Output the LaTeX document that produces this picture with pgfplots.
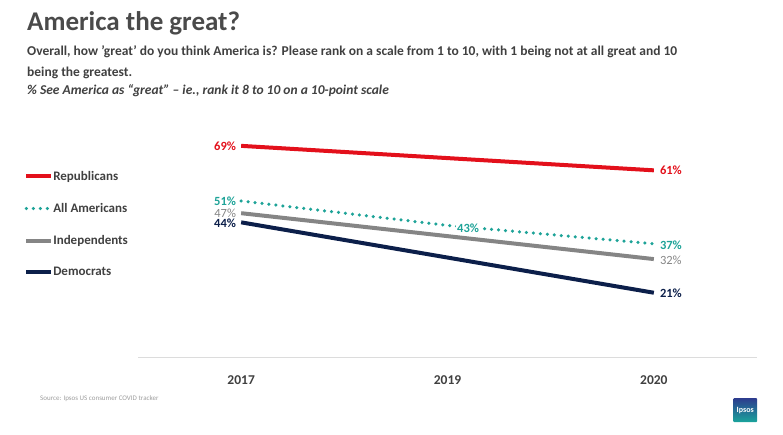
\documentclass[border=0pt]{standalone}
\usepackage{pgfplots}
\pgfplotsset{compat=1.18}
\usepackage{fontspec}
\setmainfont{Carlito}
\definecolor{rep}{HTML}{E3101B}
\definecolor{allam}{HTML}{1EA398}
\definecolor{ind}{HTML}{858585}
\definecolor{dem}{HTML}{0C1F4A}
\definecolor{txt}{HTML}{404040}
\definecolor{ttl}{HTML}{4A4A4A}
\definecolor{axisgray}{HTML}{DCDCDC}
\definecolor{logoblue}{HTML}{2D3C8E}
\definecolor{logoteal}{HTML}{19A59C}
\begin{document}
\begin{tikzpicture}
\useasboundingbox (0pt,0pt) rectangle (783pt,-435pt);
% titles
\node[anchor=base west,inner sep=0,font=\fontsize{27}{30}\selectfont\bfseries,text=ttl] at (27pt,-31pt) {America the great?};
\node[anchor=base west,inner sep=0,font=\fontsize{13.5}{16}\selectfont\bfseries,text=txt] at (27pt,-56pt) {Overall, how 'great' do you think America is? Please rank on a scale from 1 to 10, with 1 being not at all great and 10};
\node[anchor=base west,inner sep=0,font=\fontsize{13.5}{16}\selectfont\bfseries,text=txt] at (27pt,-77pt) {being the greatest.};
\node[anchor=base west,inner sep=0,font=\fontsize{13.5}{16}\selectfont\bfseries\itshape,text=txt] at (27pt,-95pt) {\% See America as “great” – ie., rank it 8 to 10 on a 10-point scale};
% source
\node[anchor=base west,inner sep=0,font=\fontsize{7}{8}\selectfont,text=ind!80] at (40pt,-400pt) {Source: Ipsos US consumer COVID tracker};
% logo
\node[minimum width=24pt,minimum height=24pt,inner sep=0pt,rounded corners=1pt,top color=logoblue,bottom color=logoteal,text=white,font=\fontsize{8}{9}\selectfont\bfseries,anchor=north west] at (733pt,-398pt) {\raisebox{-6pt}{Ipsos}};
\begin{axis}[
  at={(138pt,-357pt)}, anchor=south west,
  scale only axis, width=619pt, height=229.5pt,
  xmin=-0.5, xmax=2.5, ymin=0, ymax=75,
  axis x line*=bottom, axis y line=none,
  x axis line style={draw=axisgray,line width=1pt,-},
  xtick={0,1,2}, xticklabels={2017,2019,2020},
  major tick length=0pt,
  xticklabel style={font=\fontsize{13.5}{16}\selectfont\bfseries,text=txt,yshift=-15pt},
  ytick=\empty,
  clip=false,
  legend style={at={(-0.184,0.811)},anchor=north west,draw=none,fill=none,
    font=\fontsize{13}{15}\selectfont\bfseries,text=txt,row sep=21.5pt,
    inner sep=0pt,nodes={inner xsep=0pt,inner ysep=0pt},cells={anchor=west},
    /tikz/every even column/.append style={column sep=0pt}},
  legend image code/.code={\draw[#1] (0pt,0pt) -- (25pt,0pt);},
  legend cell align=left,
]
\addplot[rep,line width=4pt] coordinates {(0,69) (2,61)};
\addlegendentry{Republicans}
\addplot[allam,line width=3.5pt,line cap=round,dash pattern=on 0pt off 7pt] coordinates {(0,51) (1,43) (2,37)};
\addlegendentry{All Americans}
\addplot[ind,line width=4pt] coordinates {(0,47) (2,32)};
\addlegendentry{Independents}
\addplot[dem,line width=4pt] coordinates {(0,44) (2,21)};
\addlegendentry{Democrats}
% value labels
\begin{scope}[every node/.style={font=\fontsize{12.5}{15}\selectfont\bfseries,inner sep=0pt}]
\node[anchor=east,text=rep] at (axis cs:0,69) [xshift=-5pt] {69\%};
\node[anchor=east,text=allam] at (axis cs:0,51) [xshift=-5pt,yshift=0pt] {51\%};
\node[anchor=east,text=ind,font=\fontsize{12.5}{15}\selectfont] at (axis cs:0,47) [xshift=-5pt,yshift=0pt] {47\%};
\node[anchor=east,text=dem] at (axis cs:0,44) [xshift=-5pt,yshift=-1pt] {44\%};
\node[anchor=west,text=rep] at (axis cs:2,61) [xshift=6pt] {61\%};
\node[anchor=west,text=allam] at (axis cs:2,37) [xshift=6pt,yshift=-1pt] {37\%};
\node[anchor=west,text=ind,font=\fontsize{12.5}{15}\selectfont] at (axis cs:2,32) [xshift=6pt,yshift=-1pt] {32\%};
\node[anchor=west,text=dem] at (axis cs:2,21) [xshift=6pt,yshift=-1pt] {21\%};
\node[fill=white,inner xsep=1.5pt,inner ysep=1pt,text=allam] at (axis cs:1.1,42.2) {43\%};
\end{scope}
\end{axis}
\end{tikzpicture}
\end{document}
